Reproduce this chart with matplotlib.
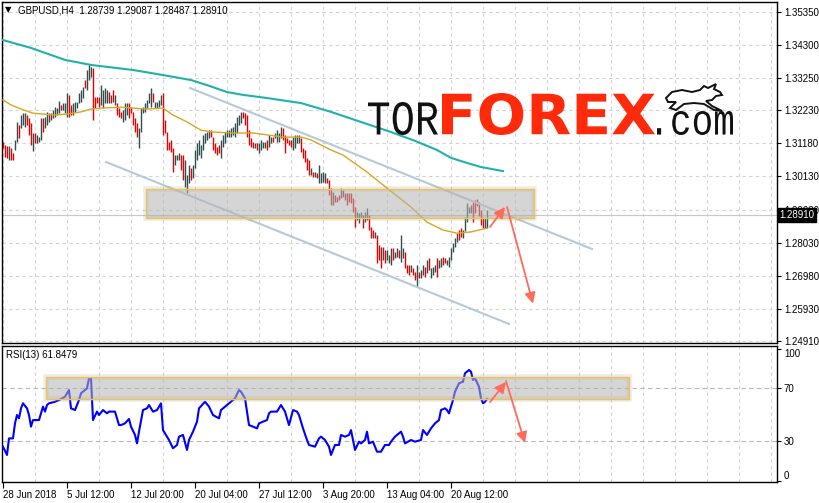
import matplotlib
matplotlib.use("Agg")
import matplotlib.pyplot as plt
from matplotlib.patches import Rectangle, PathPatch, Polygon
from matplotlib.textpath import TextPath
from matplotlib.font_manager import FontProperties
from matplotlib.transforms import Affine2D, blended_transform_factory

plt.rcParams['font.family'] = ['Liberation Sans', 'DejaVu Sans']

# GBPUSD H4 bars, prices in pips (1 pip = 0.0001)
opens = [13122, 13113, 13110, 13065, 13103, 13087, 13097, 13122, 13176, 13167,
         13176, 13170, 13208, 13198, 13183, 13094, 13151, 13119, 13122, 13129,
         13198, 13167, 13176, 13186, 13214, 13198, 13202, 13208, 13214, 13240,
         13224, 13214, 13202, 13272, 13240, 13208, 13218, 13230, 13246, 13249,
         13262, 13319, 13287, 13319, 13329, 13357, 13265, 13265, 13265, 13240,
         13230, 13246, 13246, 13281, 13246, 13287, 13240, 13246, 13230, 13218,
         13186, 13192, 13208, 13246, 13233, 13218, 13198, 13183, 13103, 13154,
         13214, 13218, 13230, 13246, 13233, 13278, 13230, 13230, 13233, 13240,
         13278, 13192, 13154, 13122, 13129, 13103, 13049, 13065, 13065, 13081,
         13081, 12979, 12960, 12992, 13040, 13008, 13040, 13065, 13081, 13072,
         13097, 13119, 13129, 13135, 13160, 13138, 13119, 13107, 13113, 13072,
         13107, 13119, 13138, 13138, 13138, 13145, 13138, 13151, 13176, 13183,
         13218, 13214, 13208, 13160, 13135, 13122, 13103, 13119, 13087, 13097,
         13103, 13103, 13129, 13107, 13119, 13138, 13135, 13122, 13122, 13135,
         13167, 13145, 13135, 13129, 13129, 13097, 13103, 13119, 13119, 13135,
         13103, 13097, 13072, 13065, 13018, 13027, 13011, 13024, 12992, 12992,
         12995, 12992, 13008, 13002, 12976, 12922, 12954, 12948, 12954, 12945,
         12970, 12938, 12960, 12960, 12960, 12945, 12916, 12875, 12865, 12881,
         12891, 12868, 12875, 12891, 12853, 12843, 12818, 12827, 12795, 12789,
         12748, 12780, 12748, 12738, 12732, 12786, 12754, 12757, 12780, 12741,
         12754, 12773, 12732, 12732, 12710, 12722, 12710, 12662, 12710, 12691,
         12700, 12726, 12707, 12754, 12691, 12700, 12710, 12754, 12722, 12726,
         12757, 12754, 12732, 12726, 12748, 12773, 12789, 12805, 12843, 12849,
         12818, 12840, 12868, 12897, 12897, 12932, 12938, 12941, 12932, 12907,
         12884, 12849, 12849]
closes = [13103, 13075, 13072, 13110, 13065, 13065, 13129, 13186, 13135, 13208,
          13214, 13214, 13176, 13145, 13113, 13151, 13119, 13145, 13138, 13198,
          13154, 13202, 13218, 13214, 13192, 13224, 13233, 13230, 13252, 13224,
          13246, 13246, 13278, 13202, 13208, 13246, 13249, 13249, 13278, 13287,
          13297, 13294, 13351, 13367, 13360, 13192, 13230, 13246, 13233, 13303,
          13287, 13294, 13287, 13246, 13272, 13249, 13272, 13208, 13202, 13198,
          13224, 13246, 13246, 13198, 13214, 13176, 13154, 13138, 13167, 13230,
          13233, 13246, 13256, 13278, 13294, 13249, 13249, 13249, 13256, 13272,
          13145, 13151, 13097, 13097, 13091, 13027, 13081, 13081, 13087, 13033,
          13002, 13065, 13018, 13049, 13002, 13049, 13097, 13119, 13129, 13113,
          13145, 13151, 13154, 13160, 13138, 13097, 13087, 13081, 13087, 13129,
          13145, 13154, 13160, 13160, 13167, 13170, 13183, 13202, 13208, 13218,
          13198, 13176, 13138, 13113, 13107, 13103, 13119, 13097, 13119, 13129,
          13122, 13122, 13097, 13145, 13138, 13122, 13151, 13160, 13151, 13170,
          13129, 13087, 13119, 13113, 13107, 13138, 13145, 13145, 13145, 13091,
          13072, 13059, 13033, 13018, 13040, 13011, 13027, 13008, 13049, 13024,
          13027, 13024, 12992, 12954, 12922, 12964, 12932, 12932, 12938, 12976,
          12948, 12960, 12922, 12932, 12929, 12900, 12853, 12900, 12897, 12900,
          12849, 12900, 12913, 12843, 12818, 12818, 12837, 12738, 12748, 12722,
          12789, 12738, 12780, 12764, 12786, 12748, 12773, 12786, 12754, 12827,
          12786, 12722, 12707, 12700, 12732, 12700, 12684, 12732, 12691, 12716,
          12732, 12694, 12748, 12716, 12722, 12726, 12732, 12694, 12748, 12754,
          12732, 12738, 12748, 12757, 12786, 12802, 12818, 12834, 12811, 12821,
          12843, 12884, 12929, 12916, 12922, 12868, 12897, 12919, 12887, 12859,
          12849, 12881, 12907]

# moving averages (bar index, pips)
ma_slow_bars = [0, 14, 31, 44, 65, 80, 94, 102, 112, 120, 132, 149, 164, 179,
                194, 206, 217, 224, 232, 239, 250]
ma_slow_vals = [13446, 13421, 13383, 13367, 13351, 13335, 13319, 13303, 13281,
                13272, 13262, 13246, 13218, 13186, 13154, 13126, 13097, 13072,
                13056, 13043, 13030]
ma_fast_bars = [0, 4, 9, 15, 20, 25, 32, 39, 44, 49, 59, 65, 72, 80, 85, 92, 99,
                105, 115, 125, 132, 140, 149, 154, 159, 164, 170, 182, 192, 204,
                212, 220, 227, 234, 240, 242]
ma_fast_vals = [13256, 13240, 13227, 13214, 13211, 13208, 13211, 13218, 13227,
                13230, 13233, 13230, 13227, 13230, 13208, 13186, 13160, 13154,
                13151, 13151, 13145, 13138, 13138, 13129, 13113, 13097, 13081,
                13027, 12976, 12916, 12868, 12843, 12833, 12837, 12846, 12849]

# RSI(13)
rsi_bars = [0, 2, 3, 5, 6, 7, 8, 9, 10, 12, 13, 14, 15, 17, 18, 20, 21, 22, 23,
            26, 28, 31, 33, 34, 36, 38, 39, 42, 43, 44, 45, 47, 48, 50, 52, 53,
            56, 58, 59, 61, 63, 64, 66, 67, 68, 70, 72, 73, 75, 77, 79, 80, 82,
            83, 85, 87, 88, 90, 92, 93, 95, 97, 98, 101, 103, 105, 108, 109, 112,
            114, 116, 118, 119, 121, 122, 123, 125, 127, 128, 130, 132, 133, 134,
            137, 139, 141, 143, 145, 147, 148, 150, 152, 153, 156, 158, 159, 161,
            163, 164, 166, 168, 169, 171, 173, 174, 176, 178, 179, 181, 182, 183,
            185, 187, 189, 191, 193, 194, 196, 198, 199, 200, 201, 204, 206, 209,
            210, 212, 214, 216, 218, 219, 221, 222, 223, 225, 226, 228, 230, 231,
            233, 234, 235, 236, 238, 239, 240, 241, 242]
rsi_vals = [25.7, 19.4, 32.0, 32.0, 43.4, 49.7, 47.2, 54.8, 58.6, 54.8, 49.7,
            40.9, 45.9, 45.9, 45.9, 56.1, 52.3, 57.3, 58.6, 59.8, 61.1, 63.6,
            68.7, 54.8, 53.5, 61.1, 66.2, 70.0, 77.6, 77.6, 45.9, 52.3, 49.7,
            53.5, 51.0, 52.3, 52.3, 42.1, 42.1, 43.4, 46.7, 40.9, 34.6, 28.2,
            37.1, 53.5, 54.8, 57.3, 52.3, 53.5, 58.6, 38.3, 33.3, 30.8, 24.5,
            27.0, 33.3, 34.6, 23.2, 30.8, 37.1, 44.7, 54.8, 59.8, 56.1, 49.7,
            47.2, 53.5, 57.3, 59.8, 62.4, 68.7, 67.4, 62.4, 52.3, 42.1, 40.9,
            39.6, 43.4, 44.7, 45.9, 51.0, 52.3, 52.3, 57.3, 52.3, 42.1, 53.5,
            52.3, 49.7, 39.6, 30.8, 27.0, 25.7, 32.0, 33.3, 30.8, 25.7, 19.4,
            27.0, 27.0, 34.6, 33.3, 34.6, 38.3, 23.2, 29.5, 28.2, 30.8, 37.1,
            28.2, 29.5, 21.9, 21.9, 27.0, 27.0, 29.5, 33.3, 35.8, 37.1, 33.3,
            28.2, 30.8, 29.5, 30.8, 38.3, 34.6, 39.6, 43.4, 45.9, 53.5, 54.8,
            53.5, 51.0, 61.1, 67.4, 73.8, 75.0, 81.4, 83.9, 82.6, 76.3, 77.6,
            71.2, 62.4, 58.6, 59.8, 61.8]

price_ticks = [1.24910, 1.25930, 1.26980, 1.28030, 1.29080, 1.30130, 1.31180,
               1.32230, 1.33250, 1.34300, 1.35350]
date_ticks = [0, 32, 64, 96, 128, 160, 192, 224]
date_labels = ['28 Jun 2018', '5 Jul 12:00', '12 Jul 20:00', '20 Jul 04:00',
               '27 Jul 12:00', '3 Aug 20:00', '13 Aug 04:00', '20 Aug 12:00']
last_price = 1.28910

UP = '#2f4f4f'
DOWN = '#e60000'
GRID = '#d4d4d4'
ARROW = '#ff6b5b'
BOXFACE = '#b4b4b4'
BOXEDGE = '#f0c24e'

W, H = 820, 503
fig = plt.figure(figsize=(W / 100, H / 100), dpi=100)


def box(x0, y0, x1, y1):
    return [x0 / W, 1 - y1 / H, (x1 - x0) / W, (y1 - y0) / H]


ax = fig.add_axes(box(2, 2, 777, 343))
ax2 = fig.add_axes(box(2, 346, 777, 482))

# ---- price panel
n = len(opens)
lo = [min(o, c) / 1e4 for o, c in zip(opens, closes)]
hi = [max(o, c) / 1e4 for o, c in zip(opens, closes)]
cols = [UP if c >= o else DOWN for o, c in zip(opens, closes)]
ax.vlines(range(n), lo, hi, colors=cols, lw=1.0, zorder=2)

ax.plot(ma_slow_bars, [v / 1e4 for v in ma_slow_vals], color='#20b2aa', lw=1.5, zorder=3)
ax.plot(ma_fast_bars, [v / 1e4 for v in ma_fast_vals], color='#daa520', lw=1.0, zorder=3)

# trend channel
chan = '#b7c9d8'
ax.plot([93.5, 294.5], [1.32938, 1.27828], color=chan, lw=1.5, zorder=2.5)
ax.plot([51.5, 253.0], [1.30589, 1.25447], color=chan, lw=1.5, zorder=2.5)

ax.axhline(last_price, color='#c8c8c8', lw=0.8, zorder=1)

# resistance zone
ax.add_patch(Rectangle((71.3, 1.2881), 194.4, 0.0092, fc='none', ec='#999999',
                       lw=4, alpha=0.18, zorder=4))
ax.add_patch(Rectangle((71.3, 1.2881), 194.4, 0.0092, fc=BOXFACE, ec='none',
                       alpha=0.55, zorder=4))
ax.add_patch(Rectangle((71.3, 1.2881), 194.4, 0.0092, fc='none', ec=BOXEDGE,
                       lw=1, zorder=4.5))

ap = dict(arrowstyle='-|>', color=ARROW, lw=1.3, mutation_scale=16, shrinkA=0, shrinkB=0)
ax.annotate('', xy=(251, 1.29161), xytext=(243.5, 1.28526), arrowprops=ap, zorder=6)
ax.annotate('', xy=(265, 1.26095), xytext=(252, 1.29161), arrowprops=ap, zorder=6)

ax.set_xlim(-0.5, 387)
ax.set_ylim(1.24844, 1.35668)
ax.set_yticks(price_ticks)
ax.set_yticklabels(['%.5f' % t for t in price_ticks])
ax.yaxis.tick_right()
ax.tick_params(axis='y', direction='out', length=3, pad=2, labelsize=7, width=0.8)
ax.set_xticks(range(0, 388, 16))
ax.tick_params(axis='x', length=0, labelbottom=False)
ax.grid(True, color=GRID, ls=(0, (3, 3)), lw=0.8)
ax.set_axisbelow(True)

ax.text(1.003, last_price, '%.5f' % last_price, color='white', fontsize=7,
        va='center', ha='left', clip_on=False, zorder=10,
        transform=blended_transform_factory(ax.transAxes, ax.transData),
        bbox=dict(fc='black', ec='black', pad=1.2))

# ---- RSI panel
ax2.plot(rsi_bars, rsi_vals, color='#0000ff', lw=1.5, zorder=3)
ax2.axhline(70, color='#b8b8b8', ls=(0, (4, 3)), lw=0.8, zorder=1)
ax2.axhline(30, color='#b8b8b8', ls=(0, (4, 3)), lw=0.8, zorder=1)

ax2.add_patch(Rectangle((21.3, 62.1), 291.5, 16.3, fc='none', ec='#999999',
                        lw=4, alpha=0.18, zorder=4))
ax2.add_patch(Rectangle((21.3, 62.1), 291.5, 16.3, fc=BOXFACE, ec='none',
                        alpha=0.55, zorder=4))
ax2.add_patch(Rectangle((21.3, 62.1), 291.5, 16.3, fc='none', ec=BOXEDGE,
                        lw=1, zorder=4.5))
ax2.annotate('', xy=(251.5, 74.8), xytext=(243.5, 59.6), arrowprops=ap, zorder=6)
ax2.annotate('', xy=(261, 28.5), xytext=(251.5, 75.5), arrowprops=ap, zorder=6)

ax2.set_xlim(-0.5, 387)
ax2.set_ylim(-1.1, 102.1)
ax2.set_yticks([0, 30, 70, 100])
ax2.set_yticklabels(['0', '30', '70', '100'])
ax2.yaxis.tick_right()
ax2.tick_params(axis='y', direction='out', length=3, pad=2, labelsize=7, width=0.8)
for lab in ax2.get_yticklabels():
    if lab.get_text() == '100':
        lab.set_va('top')
    elif lab.get_text() == '0':
        lab.set_va('bottom')
ax2.set_xticks(date_ticks)
ax2.set_xticklabels(date_labels)
ax2.set_xticks(range(0, 388, 16), minor=True)
ax2.tick_params(axis='x', which='major', direction='out', length=4, pad=2,
                labelsize=7, width=0.8)
ax2.tick_params(axis='x', which='minor', length=0)
for lab in ax2.get_xticklabels():
    lab.set_ha('left')
ax2.grid(True, axis='x', which='minor', color=GRID, ls=(0, (3, 3)), lw=0.8)
ax2.set_axisbelow(True)

for a in (ax, ax2):
    for s in a.spines.values():
        s.set_color('black')
        s.set_linewidth(1.0)

# ---- overlay in pixel coordinates: header texts and logo
ov = fig.add_axes([0, 0, 1, 1], zorder=20)
ov.set_xlim(0, W)
ov.set_ylim(H, 0)
ov.axis('off')
ov.patch.set_alpha(0)

ov.text(5, 10, '\u25bc', fontsize=6, va='center', ha='left', family='DejaVu Sans')
ov.text(18, 10, 'GBPUSD,H4  1.28739 1.29087 1.28487 1.28910', fontsize=7,
        va='center', ha='left')
ov.text(6, 355, 'RSI(13) 61.8479', fontsize=7, va='center', ha='left')


def logo_text(s, x0, x1, y_top, y_bot, family, weight, color):
    tp = TextPath((0, 0), s, size=100, prop=FontProperties(family=family, weight=weight))
    bb = tp.get_extents()
    sx = (x1 - x0) / bb.width
    sy = (y_bot - y_top) / bb.height
    tr = Affine2D().translate(-bb.x0, -bb.y0).scale(sx, -sy).translate(x0, y_bot)
    ov.add_patch(PathPatch(tr.transform_path(tp), fc=color, ec='none'))


logo_text('TOR', 368, 438, 102, 135, 'Liberation Mono', 'normal', '#111111')
logo_text('FOREX', 442, 655, 93, 135, 'DejaVu Sans', 'bold', '#ff2a0a')
logo_text('.com', 657, 733, 111, 135, 'Liberation Mono', 'normal', '#111111')

bull = [(666, 98), (672, 92), (682, 90), (692, 92), (700, 90), (704, 86), (708, 88),
        (712, 86), (716, 84), (714, 89), (720, 92), (722, 95), (716, 96), (712, 100),
        (706, 101), (712, 106), (722, 111), (714, 110), (704, 104), (694, 103),
        (684, 104), (676, 110), (670, 108), (676, 102), (668, 102)]
ov.add_patch(Polygon(bull, closed=True, fc='white', ec='#111111', lw=1.4))

fig.savefig('out.png', dpi=100)
